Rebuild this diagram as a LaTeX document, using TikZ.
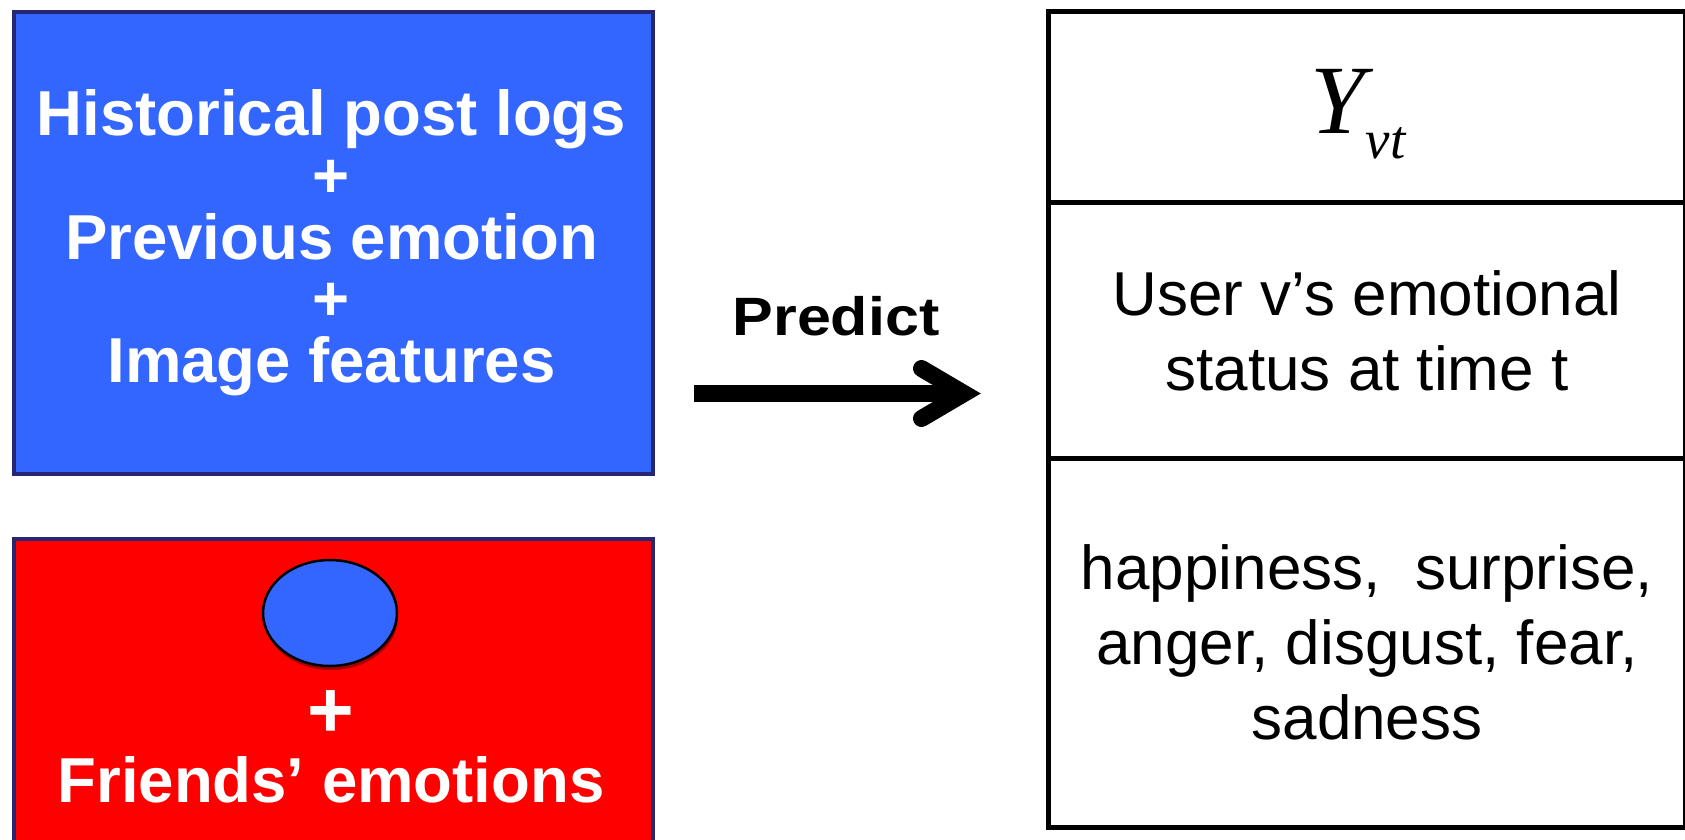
\documentclass[tikz,border=0pt]{standalone}
\usepackage{fontspec}
\usepackage{graphicx}
\setmainfont{Liberation Sans}
\newfontfamily\timesfont{Liberation Serif}
\usetikzlibrary{shapes.geometric,shadows}
\definecolor{boxblue}{RGB}{51,102,255}
\definecolor{boxred}{RGB}{255,0,0}
\definecolor{navy}{RGB}{38,38,115}
\begin{document}
\begin{tikzpicture}[x=1pt,y=-1pt,
  inbox/.style={draw=navy, line width=4pt, inner sep=0pt, anchor=north west},
  btext/.style={text=white, font=\bfseries\fontsize{63.5}{61.75}\selectfont, align=center, inner sep=0pt},
  cell/.style={draw=black, line width=5pt, inner sep=0pt, minimum width=637pt, anchor=north west},
  ttext/.style={font=\fontsize{62}{75}\selectfont, align=center, inner sep=0pt},
  thick arrow/.style={line width=17pt}]
\useasboundingbox (0,0) rectangle (1685,839);

% left boxes
\node[inbox, fill=boxblue, minimum width=639pt, minimum height=462pt] (hist) at (12,10) {};
\node[btext, anchor=north] (histtxt) at (331.5,89.5)
  {Historical post logs\\+\\Previous emotion\\+\\Image features};

\node[inbox, fill=boxred, minimum width=639pt, minimum height=320pt] (friend) at (12,537) {};
\node[ellipse, draw=black, line width=2.5pt, fill=boxblue, minimum width=134pt, minimum height=106pt,
      drop shadow={shadow xshift=1pt, shadow yshift=-4pt, opacity=0.35, fill=black}] (me) at (330,613) {};
\node[text=white, font=\bfseries\fontsize{80}{80}\selectfont, inner sep=0pt, anchor=base] (plus) at (331,737) {+};
\node[text=white, font=\bfseries\fontsize{63.5}{63.5}\selectfont, inner sep=0pt, anchor=base] (ftxt) at (331,802) {Friends’ emotions};

% arrow
\node[font=\bfseries\fontsize{54}{54}\selectfont, inner sep=0pt, anchor=base] (pred) at (836,335) {\scalebox{1.13}[1]{Predict}};
\coordinate (ashaft) at (694,393.5);
\coordinate (atip) at (964,393.5);
\coordinate (armtop) at (921.5,368.5);
\coordinate (armbot) at (921.5,418.5);
\draw[thick arrow] (ashaft) -- (atip);
\draw[thick arrow, line cap=round, line join=miter] (armtop) -- (atip) -- (armbot);

% table
\node[cell, minimum height=191.5pt] (row1) at (1046,8.5) {};
\node[cell, minimum height=256pt] (row2) at (1046,200) {};
\node[cell, minimum height=368.5pt] (row3) at (1046,456) {};

\node[anchor=base west, inner sep=0pt, font=\timesfont\itshape\fontsize{98}{98}\selectfont] (yvt) at (1310,133)
  {Y\hspace{1pt}\raisebox{-25pt}{\fontsize{55}{55}\selectfont vt}};
\node[ttext] (status) at (row2.center) {User v’s emotional\\status at time t};
\node[ttext] (emos) at (row3.center) {happiness,\ \ surprise,\\anger, disgust, fear,\\sadness};
\end{tikzpicture}
\end{document}
